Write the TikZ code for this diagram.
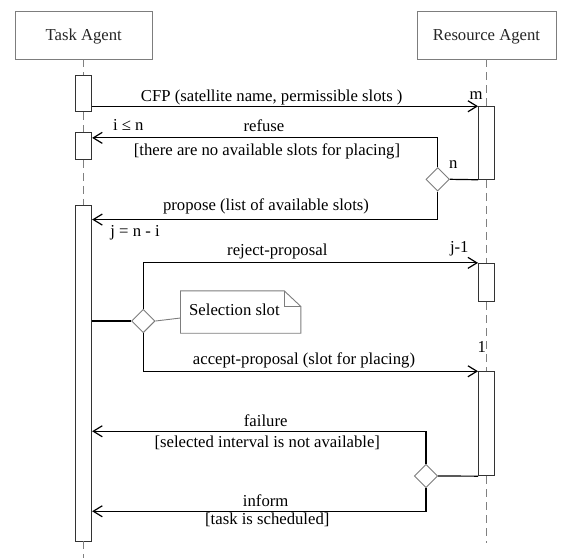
\documentclass[tikz,border=0pt]{standalone}
\usepackage{fontspec}
\setmainfont{Liberation Serif}
\usetikzlibrary{shapes.geometric,arrows.meta,calc}
\definecolor{lifegray}{RGB}{128,128,128}
\definecolor{boxgray}{RGB}{125,125,125}
\begin{document}
\begin{tikzpicture}[x=1pt,y=-1pt,
  font=\fontsize{16.7}{20}\selectfont,
  head/.style={draw=boxgray, line width=0.9pt, minimum width=137pt, minimum height=48pt, inner sep=0pt, text=black!85, text height=14.7pt, text depth=3.3pt},
  act/.style={draw=black!80, fill=white, line width=0.9pt, minimum width=16pt, inner sep=0pt},
  dia/.style={diamond, draw=boxgray, fill=white, line width=0.9pt, minimum width=23.5pt, minimum height=23.5pt, inner sep=0pt},
  life/.style={draw=lifegray, line width=1pt, dash pattern=on 8pt off 5pt},
  msg/.style={draw=black, line width=1.2pt, -{Straight Barb[length=9pt,width=11pt,line width=1.2pt]}},
  wire/.style={draw=black, line width=1.2pt},
  notebox/.style={draw=boxgray, line width=0.9pt},
  notewire/.style={draw=boxgray, line width=0.9pt},
  lbl/.style={inner sep=0pt, text height=0.68em, text depth=0.2em, text=black}
]
\useasboundingbox (0,0) rectangle (569,558);

% lifeline heads
\node[head] (ta) at (83.7,35) {Task Agent};
\node[head, minimum width=139pt] (ra) at (486.5,35) {Resource Agent};

% activations
\node[act, minimum height=36.7pt] (ta1) at (83.7,93.35) {};
\node[act, minimum height=26.6pt] (ta2) at (83.7,146) {};
\node[act, minimum height=336pt] (ta3) at (83.7,373) {};
\node[act, minimum height=72.6pt] (ra1) at (486.5,143) {};
\node[act, minimum height=38.4pt] (ra2) at (486.5,282.5) {};
\node[act, minimum height=104pt] (ra3) at (486.5,423.7) {};

\coordinate (tend) at (83.7,558);
\coordinate (rend) at (486.5,543);

% lifelines
\draw[life] (ta.south) -- (ta1.north);
\draw[life] (ta1.south) -- (ta2.north);
\draw[life] (ta2.south) -- (ta3.north);
\draw[life] (ta3.south) -- (tend);
\draw[life] (ra.south) -- (ra1.north);
\draw[life] (ra1.south) -- (ra2.north);
\draw[life] (ra2.south) -- (ra3.north);
\draw[life] (ra3.south) -- (rend);

% decision diamonds
\node[dia] (d1) at (437.7,179.3) {};
\node[dia] (d2) at (143.3,321) {};
\node[dia] (d3) at (426,476) {};

% note
\node[minimum width=120pt, minimum height=42pt, inner sep=0pt] (note) at (240.7,312) {};
\draw[notebox] (note.north west) -- ($(note.north east)+(-16.7,0)$) -- ($(note.north east)+(0,15.7)$) -- (note.south east) -- (note.south west) -- cycle;
\draw[notebox] ($(note.north east)+(-16.7,0)$) |- ($(note.north east)+(0,15.7)$);
\node[lbl, anchor=west] (selt) at (189,313.3) {Selection slot};
\draw[notewire] (d2.east) -- ($(note.west)+(0,6)$);

% messages
\draw[msg] (ta1.south east |- ra1.north) -- (ra1.north west);
\draw[wire] (ra1.south west) -- (d1.east);
\draw[msg] (d1.north) |- ($(ta2.north east)+(0,5.6)$);
\draw[msg] (d1.south) |- ($(ta3.north east)+(0,15)$);
\draw[wire] (ta3.east |- d2) -- (d2.west);
\draw[msg] (d2.north) |- (ra2.north west);
\draw[msg] (d2.south) |- (ra3.north west);
\draw[wire] (ra3.south west) -- (d3.east);
\draw[msg] (d3.north) |- ($(ta3.north east)+(0,226.7)$);
\draw[msg] (d3.south) |- ($(ta3.north east)+(0,306.7)$);

% labels
\node[lbl] (lcfp) at (271.7,99) {CFP (satellite name, permissible slots )};
\node[lbl] (lm) at (476,97) {m};
\node[lbl] (lin) at (128.3,128.3) {i ≤ n};
\node[lbl] (lref) at (264,129.3) {refuse};
\node[lbl] (lrefg) at (267,152.7) {[there are no available slots for placing]};
\node[lbl] (ln) at (453.3,166) {n};
\node[lbl] (lprop) at (266,208.3) {propose (list of available slots)};
\node[lbl] (lj) at (135,234.3) {j = n - i};
\node[lbl] (lrej) at (277.3,253.3) {reject-proposal};
\node[lbl] (ljm) at (459.3,250) {j-1};
\node[lbl] (lacc) at (304,361.7) {accept-proposal (slot for placing)};
\node[lbl] (lone) at (481.7,350) {1};
\node[lbl] (lfail) at (265.7,424.3) {failure};
\node[lbl] (lfailg) at (267.3,445) {[selected interval is not available]};
\node[lbl] (linf) at (265.7,504.3) {inform};
\node[lbl] (linfg) at (267.3,521.7) {[task is scheduled]};
\end{tikzpicture}
\end{document}
